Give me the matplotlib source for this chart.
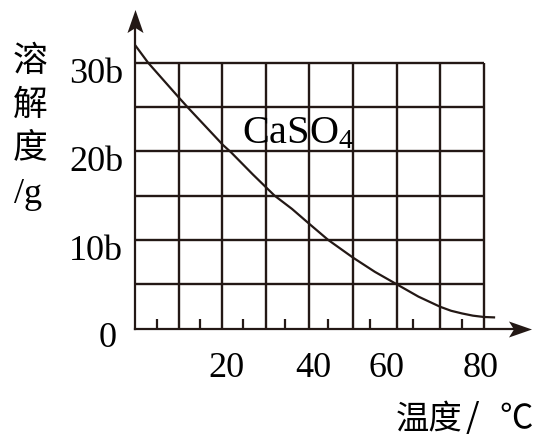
import numpy as np
import matplotlib.pyplot as plt
from matplotlib.path import Path
from matplotlib.transforms import offset_copy

plt.rcParams['font.family'] = ['Liberation Serif', 'DejaVu Serif']
plt.rcParams['mathtext.fontset'] = 'custom'
plt.rcParams['mathtext.rm'] = 'Liberation Serif'
plt.rcParams['mathtext.it'] = 'Liberation Serif:italic'

# ========== DATA ==========
temp = [0, 3, 10, 12.2, 20.2, 22, 27, 32, 36, 40, 44.3, 50, 55, 60, 65, 70, 72.5, 75, 77.5, 80, 82.6]
solubility = [32.0, 30.0, 26.1, 24.9, 20.7, 19.9, 17.4, 15.0, 13.5, 11.8, 10.0, 8.0, 6.4, 5.0, 3.6,
              2.45, 2.0, 1.7, 1.45, 1.3, 1.25]

grid_x = [10, 20, 30, 40, 50, 60, 70, 80]
grid_y = [5, 10, 15, 20, 25, 30]
ytick_vals = [10, 20, 30]
ytick_labels = ['10b', '20b', '30b']
xtick_labels = ['20', '40', '60', '80']
xtick_pos = [21, 41, 57.6, 79.2]       # where the labels sit in the figure
minor_ticks = [5, 14.9, 24.8, 34.4, 44.3, 53.9, 63.8, 75]

# ========== LAYOUT ==========
INK = '#231815'
W, H = 533, 440
X0, Y0 = 135, 328.5        # origin in pixels
PX_X, PX_Y = 4.36, 8.86    # pixels per data unit

fig = plt.figure(figsize=(W / 100, H / 100), dpi=100)
ax = fig.add_axes([X0 / W, 1 - Y0 / H, 1 - X0 / W, Y0 / H])
ax.set_xlim(0, (W - X0) / PX_X)
ax.set_ylim(0, Y0 / PX_Y)
for s in ax.spines.values():
    s.set_visible(False)
ax.patch.set_visible(False)

# grid
ax.vlines(grid_x, 0, 30, color=INK, lw=1.7)
ax.hlines(grid_y, 0, 80, color=INK, lw=1.7)

# axes with stealth arrow heads
up = Path([(0, 11.5), (8, -11.5), (0, -6.5), (-8, -11.5), (0, 11.5)],
          [Path.MOVETO, Path.LINETO, Path.LINETO, Path.LINETO, Path.CLOSEPOLY])
right = Path([(11.5, 0), (-11.5, -8), (-6.5, 0), (-11.5, 8), (11.5, 0)],
             [Path.MOVETO, Path.LINETO, Path.LINETO, Path.LINETO, Path.CLOSEPOLY])
y_tip = (Y0 - 21.5) / PX_Y
x_tip = (W - 13.5 - X0) / PX_X
ax.plot([0, 0], [0, y_tip], color=INK, lw=1.6, clip_on=False)
ax.plot([0, x_tip], [0, 0], color=INK, lw=1.6, clip_on=False)
ax.plot([0], [y_tip], marker=up, ms=16.6, color=INK, mew=0, clip_on=False)
ax.plot([x_tip], [0], marker=right, ms=16.6, color=INK, mew=0, clip_on=False)

# solubility curve
ax.plot(temp, solubility, color=INK, lw=1.6, solid_capstyle='butt',
        solid_joinstyle='round')

# ticks
ax.set_xticks([])
ax.set_yticks([])
ax.set_xticks(minor_ticks, minor=True)
ax.tick_params(which='minor', direction='in', length=7, width=1.6, color=INK)

ylab_tr = offset_copy(ax.transData, fig, x=-8.5, y=-14.5, units='points')
for v, lab in zip(ytick_vals, ytick_labels):
    ax.text(0, v, lab, transform=ylab_tr, ha='right', va='baseline',
            fontsize=26, color='black')
xlab_tr = offset_copy(ax.transData, fig, x=0, y=-35, units='points')
for p, lab in zip(xtick_pos, xtick_labels):
    ax.text(p, 0, lab, transform=xlab_tr, ha='center', va='baseline',
            fontsize=26, color='black')
zero_tr = offset_copy(ax.transData, fig, x=-19.8, y=-13.3, units='points')
ax.text(0, 0, '0', transform=zero_tr, ha='center', va='baseline',
        fontsize=26, color='black')

ax.text(24.5, 20.9, r'CaSO$_\mathrm{4}$', fontsize=29, color='black',
        ha='left', va='baseline')

# axis titles
cjk = ['Noto Sans CJK SC', 'DejaVu Sans']
for ch, yc in zip(['溶', '解', '度'], [62, 105, 148]):
    fig.text(30 / W, 1 - yc / H, ch, family=cjk, fontsize=25,
             ha='center', va='center')
fig.text(28 / W, 1 - 203 / H, '/g', fontsize=26, ha='center', va='baseline')
fig.text(396 / W, 1 - 401 / H, '温度', family=cjk, fontsize=24,
         ha='left', va='top')
fig.text(472 / W, 1 - 401 / H, '/', family=cjk, fontsize=25,
         ha='center', va='top')
fig.text(533 / W, 1 - 401 / H, '℃', family=cjk, fontsize=24,
         ha='right', va='top')

fig.savefig('out.png', dpi=100, facecolor='white')
